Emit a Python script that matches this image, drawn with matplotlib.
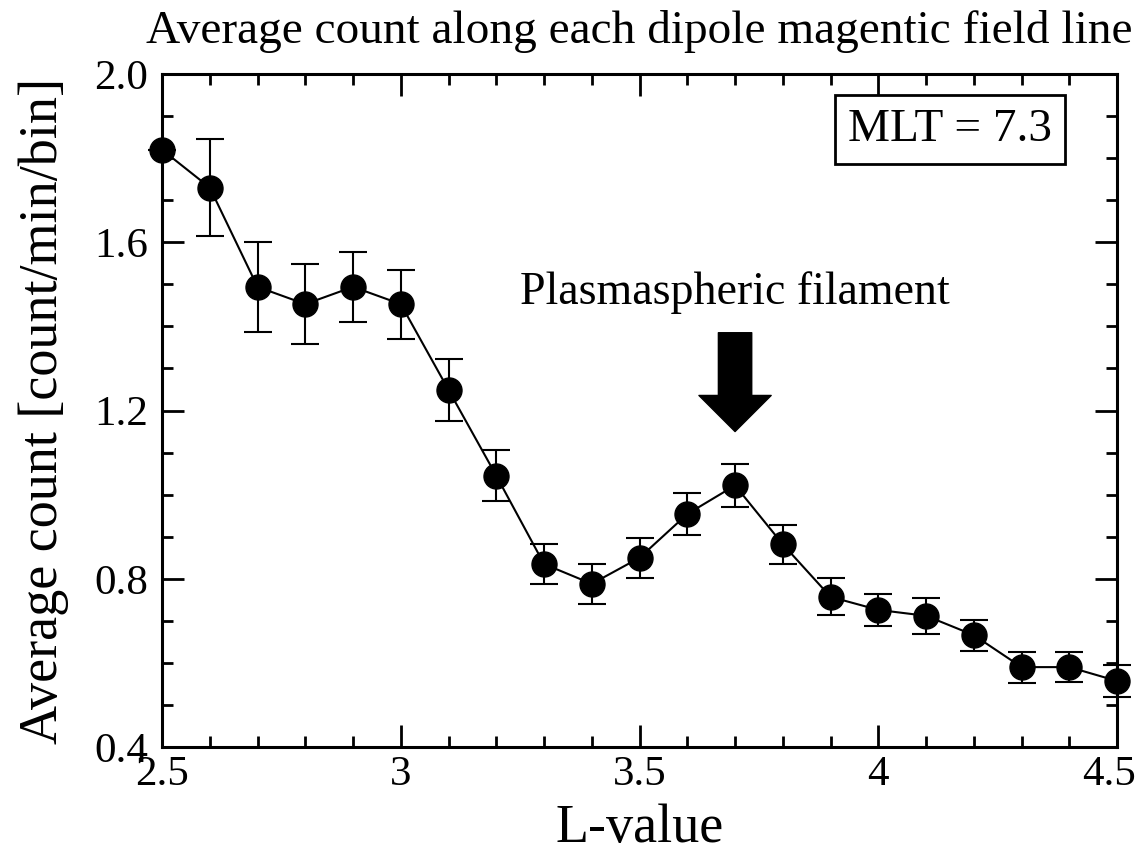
import matplotlib
matplotlib.use("Agg")
import matplotlib.pyplot as plt
from matplotlib.ticker import MultipleLocator

plt.rcParams['font.family'] = ['Liberation Serif', 'DejaVu Serif']

# L-value bins and averaged counts
l_value = [2.5, 2.6, 2.7, 2.8, 2.9, 3.0, 3.1, 3.2, 3.3, 3.4, 3.5,
           3.6, 3.7, 3.8, 3.9, 4.0, 4.1, 4.2, 4.3, 4.4, 4.5]
avg_count = [1.82, 1.73, 1.494, 1.453, 1.494, 1.453, 1.249, 1.045, 0.835, 0.788, 0.85,
             0.954, 1.022, 0.882, 0.757, 0.726, 0.712, 0.666, 0.59, 0.59, 0.557]
err = [0.0, 0.115, 0.107, 0.095, 0.083, 0.082, 0.074, 0.06, 0.048, 0.048, 0.048,
       0.05, 0.052, 0.047, 0.044, 0.038, 0.043, 0.037, 0.037, 0.035, 0.037]

XMIN, XMAX = 2.5, 4.5

fig, ax = plt.subplots(figsize=(11.38, 8.52), dpi=100)
fig.subplots_adjust(left=0.1424, right=0.9816, top=0.9131, bottom=0.1232)

ax.errorbar(l_value, avg_count, yerr=err, color='black', marker='o', markersize=18,
            linewidth=1.5, elinewidth=1.5, capsize=10, capthick=1.5, clip_on=False, zorder=3)

ax.set_xlim(XMIN, XMAX)
ax.set_ylim(0.4, 2.0)
ax.xaxis.set_major_locator(MultipleLocator(0.5))
ax.xaxis.set_minor_locator(MultipleLocator(0.1))
ax.yaxis.set_major_locator(MultipleLocator(0.4))
ax.yaxis.set_minor_locator(MultipleLocator(0.1))
# last x label is drawn by hand below so it stays inside the canvas
ax.xaxis.set_major_formatter(plt.FuncFormatter(lambda v, p: '' if abs(v - XMAX) < 1e-9 else '%g' % v))
ax.yaxis.set_major_formatter(plt.FuncFormatter(lambda v, p: '%.1f' % v))

for s in ax.spines.values():
    s.set_linewidth(2.2)
ax.tick_params(which='both', direction='in', top=True, right=True, width=2.0, labelsize=31)
ax.tick_params(axis='x', pad=6)
ax.tick_params(axis='y', pad=10)
ax.tick_params(which='major', length=16)
ax.tick_params(which='minor', length=8)

ax.annotate('%g' % XMAX, xy=(XMAX, 0), xycoords=('data', 'axes fraction'),
            xytext=(-6, -6), textcoords='offset points', ha='center', va='top', fontsize=31,
            annotation_clip=False)

ax.set_xlabel('L-value', fontsize=39, labelpad=7)
ax.set_ylabel('Average count [count/min/bin]', fontsize=39, labelpad=18)
ax.set_title('Average count along each dipole magentic field line', fontsize=34, pad=22)

ax.text(0.825, 0.917, 'MLT = 7.3', transform=ax.transAxes, fontsize=34, ha='center', va='center',
        bbox=dict(boxstyle='square,pad=0.28', facecolor='white', edgecolor='black', linewidth=2))

ax.text(3.7, 1.48, 'Plasmaspheric filament', fontsize=33, ha='center', va='center')
ax.annotate('', xy=(3.7, 1.15), xytext=(3.7, 1.385),
            arrowprops=dict(facecolor='black', edgecolor='black', width=24, headwidth=52,
                            headlength=26, shrink=0))

fig.savefig('out.png', dpi=100)
